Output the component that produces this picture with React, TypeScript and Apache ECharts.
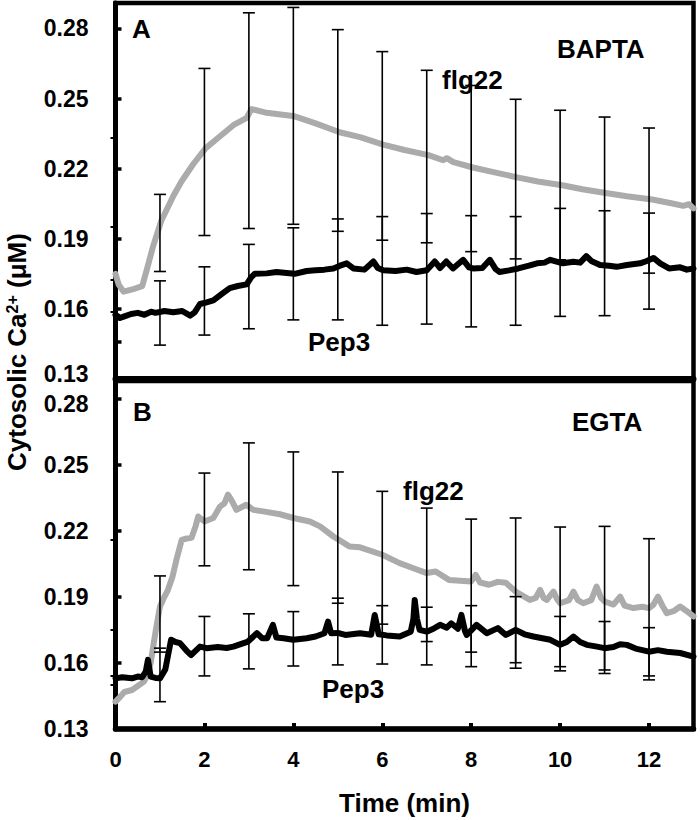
import React, { useEffect, useRef } from "react";
import * as echarts from "echarts";

// ---------- data ----------
const xTickLabels = [0, 2, 4, 6, 8, 10, 12];
const yTickLabels = [0.13, 0.16, 0.19, 0.22, 0.25, 0.28];
const yTicksA = [0.13, 0.146, 0.16, 0.19, 0.22, 0.25, 0.28];
const yTicksB = [0.13, 0.16, 0.19, 0.22, 0.25, 0.28];
const rightTicksA = [0.2332, 0.195, 0.1723, 0.1586];
const rightTicksB = [0.2159, 0.175, 0.1541, 0.15];

const barTimes = [1, 2, 3, 4, 5, 6, 7, 8, 9, 10, 11, 12];

// Panel A (BAPTA)
const aFlgLow = [0.176, 0.1914, 0.1944, 0.1962, 0.1932, 0.1894, 0.1883, 0.1845, 0.1814, 0.181, 0.178, 0.1753];
const aFlgHigh = [0.209, 0.2629, 0.2867, 0.289, 0.2795, 0.2701, 0.2621, 0.2556, 0.2497, 0.245, 0.2421, 0.2374];
const aPepLow = [0.1445, 0.1488, 0.1515, 0.1553, 0.1553, 0.153, 0.1535, 0.1523, 0.153, 0.1568, 0.1571, 0.1599];
const aPepHigh = [0.172, 0.178, 0.1876, 0.1947, 0.1985, 0.1995, 0.2008, 0.1999, 0.1995, 0.203, 0.202, 0.201];

const aFlgTrace = [
  [0, 0.175], [0.07, 0.1705], [0.18, 0.1674], [0.4, 0.1685], [0.6, 0.1697], [0.7, 0.1765],
  [0.85, 0.1871], [1.03, 0.1977], [1.3, 0.2083], [1.48, 0.2144], [1.75, 0.222], [2.03, 0.2288],
  [2.27, 0.2326], [2.65, 0.2386], [2.95, 0.2417], [3.0, 0.2435], [3.06, 0.2455], [3.4, 0.2439],
  [4.03, 0.2424], [4.5, 0.2394], [5.04, 0.2356], [5.5, 0.2335], [6.02, 0.2303], [6.5, 0.228],
  [7.04, 0.2258], [7.37, 0.2236], [7.45, 0.2245], [7.6, 0.2228], [8.04, 0.2205], [8.5, 0.2185],
  [9.06, 0.2162], [9.5, 0.2145], [10.05, 0.2129], [10.5, 0.2112], [11.06, 0.2095], [11.5, 0.2082],
  [12.07, 0.2068], [12.5, 0.2052], [12.77, 0.2041], [12.9, 0.2048], [13, 0.203],
];
const aPepTrace = [
  [0, 0.1575], [0.1, 0.1561], [0.2, 0.1568], [0.35, 0.1578], [0.5, 0.1583], [0.65, 0.1575],
  [0.8, 0.1588], [0.9, 0.1583], [1.1, 0.1591], [1.3, 0.1586], [1.5, 0.1591], [1.68, 0.1571],
  [1.78, 0.1585], [1.9, 0.1621], [2.05, 0.1628], [2.2, 0.1636], [2.4, 0.1665], [2.57, 0.1689],
  [2.75, 0.1698], [2.95, 0.1705], [3.05, 0.1735], [3.13, 0.175], [3.4, 0.1752], [3.62, 0.1758],
  [3.85, 0.1754], [4.03, 0.175], [4.3, 0.1762], [4.5, 0.1765], [4.7, 0.1768], [4.9, 0.1773],
  [5.05, 0.1785], [5.2, 0.1795], [5.35, 0.1773], [5.6, 0.1768], [5.8, 0.1803], [5.9, 0.1775],
  [6.02, 0.1765], [6.3, 0.1762], [6.55, 0.1768], [6.77, 0.1758], [7.0, 0.1765], [7.18, 0.1803],
  [7.3, 0.1775], [7.44, 0.1803], [7.59, 0.1773], [7.82, 0.181], [7.95, 0.1778], [8.04, 0.1773],
  [8.25, 0.1775], [8.42, 0.181], [8.55, 0.177], [8.64, 0.1758], [8.85, 0.1765], [9.06, 0.1773],
  [9.3, 0.1785], [9.48, 0.1795], [9.65, 0.1798], [9.78, 0.181], [10.06, 0.1795], [10.3, 0.1802],
  [10.45, 0.1798], [10.59, 0.1826], [10.7, 0.1805], [10.9, 0.1788], [11.1, 0.1785], [11.27, 0.178],
  [11.5, 0.1788], [11.8, 0.1795], [11.95, 0.1805], [12.1, 0.1818], [12.25, 0.1795], [12.45, 0.1773],
  [12.7, 0.1778], [12.85, 0.1768], [13, 0.1773],
];

// Panel B (EGTA)
const bFlgLow = [0.1649, 0.2041, 0.2023, 0.1951, 0.1871, 0.1776, 0.1697, 0.1649, 0.1576, 0.1564, 0.1552, 0.1523];
const bFlgHigh = [0.1995, 0.2462, 0.2599, 0.2558, 0.2467, 0.2379, 0.2303, 0.2253, 0.2258, 0.2217, 0.222, 0.2164];
const bPepLow = [0.1424, 0.1541, 0.1573, 0.1586, 0.1591, 0.1595, 0.1591, 0.1583, 0.1601, 0.1583, 0.1568, 0.1541];
const bPepHigh = [0.1667, 0.1811, 0.1823, 0.1833, 0.1894, 0.186, 0.1853, 0.186, 0.1901, 0.1811, 0.1788, 0.176];

const bFlgTrace = [
  [0, 0.1424], [0.1, 0.1445], [0.2, 0.1468], [0.37, 0.1477], [0.5, 0.1495], [0.64, 0.1515],
  [0.72, 0.1545], [0.79, 0.16], [0.9, 0.174], [1.0, 0.1856], [1.1, 0.19], [1.18, 0.1932],
  [1.28, 0.199], [1.37, 0.2068], [1.49, 0.2159], [1.6, 0.2165], [1.71, 0.2168], [1.8, 0.222],
  [1.86, 0.2265], [2.0, 0.2242], [2.2, 0.2258], [2.35, 0.231], [2.45, 0.2325], [2.53, 0.2364],
  [2.62, 0.2335], [2.72, 0.2295], [2.94, 0.2318], [3.1, 0.2295], [3.32, 0.2288], [3.7, 0.2275],
  [4.0, 0.2258], [4.37, 0.2242], [4.6, 0.222], [4.9, 0.2174], [5.26, 0.2129], [5.5, 0.2125],
  [6.0, 0.2091], [6.39, 0.2053], [6.7, 0.203], [7.0, 0.2008], [7.2, 0.2015], [7.5, 0.1977],
  [8.0, 0.197], [8.1, 0.2], [8.2, 0.1965], [8.4, 0.1955], [8.6, 0.1968], [8.78, 0.1964],
  [9.0, 0.1924], [9.32, 0.1886], [9.45, 0.1895], [9.55, 0.1932], [9.63, 0.1895], [9.7, 0.1886],
  [9.85, 0.1924], [9.93, 0.189], [10.0, 0.1871], [10.2, 0.1885], [10.3, 0.1924], [10.4, 0.1885],
  [10.52, 0.1871], [10.7, 0.1885], [10.82, 0.1947], [10.92, 0.1895], [11.0, 0.1879], [11.2, 0.1865],
  [11.35, 0.1901], [11.45, 0.186], [11.65, 0.1849], [11.85, 0.1855], [12.0, 0.1849], [12.1, 0.1865],
  [12.2, 0.1901], [12.3, 0.186], [12.4, 0.1826], [12.55, 0.1835], [12.7, 0.1856], [12.85, 0.1835],
  [13, 0.1811],
];
const bPepTrace = [
  [0, 0.153], [0.15, 0.1535], [0.37, 0.153], [0.5, 0.1538], [0.6, 0.1535], [0.68, 0.156],
  [0.73, 0.1614], [0.79, 0.1538], [0.9, 0.1532], [1.0, 0.153], [1.12, 0.157], [1.25, 0.1705],
  [1.35, 0.1695], [1.45, 0.169], [1.6, 0.1655], [1.7, 0.1636], [1.8, 0.1655], [1.9, 0.1674],
  [2.05, 0.1667], [2.3, 0.1672], [2.5, 0.1668], [2.65, 0.1674], [2.98, 0.1697], [3.18, 0.1735],
  [3.3, 0.1712], [3.41, 0.1712], [3.54, 0.1773], [3.62, 0.1715], [3.78, 0.1712], [4.0, 0.1705],
  [4.3, 0.1712], [4.5, 0.172], [4.7, 0.1735], [4.78, 0.1788], [4.85, 0.1735], [5.0, 0.1736],
  [5.17, 0.1727], [5.5, 0.1735], [5.75, 0.1728], [5.83, 0.1818], [5.92, 0.173], [6.1, 0.1725],
  [6.39, 0.172], [6.64, 0.1742], [6.7, 0.18], [6.73, 0.1886], [6.78, 0.18], [6.84, 0.175],
  [7.0, 0.1742], [7.15, 0.1755], [7.3, 0.1773], [7.45, 0.176], [7.55, 0.178], [7.7, 0.1755],
  [7.78, 0.1818], [7.86, 0.1745], [7.9, 0.1727], [8.12, 0.1773], [8.35, 0.1735], [8.6, 0.1758],
  [8.78, 0.1727], [9.0, 0.175], [9.2, 0.173], [9.4, 0.172], [9.6, 0.1712], [9.78, 0.1705],
  [10.0, 0.1682], [10.15, 0.1695], [10.3, 0.172], [10.45, 0.1695], [10.6, 0.1682], [10.8, 0.1675],
  [11.0, 0.1667], [11.2, 0.1672], [11.35, 0.1685], [11.5, 0.1682], [11.7, 0.1665], [12.0, 0.1651],
  [12.2, 0.1658], [12.4, 0.1651], [12.7, 0.1645], [13, 0.1629],
];

// ---------- chart ----------
const FONT = "'Liberation Sans', Arial, sans-serif";
const GRAY = "#ababab";

function bars(low: number[], high: number[]) {
  return barTimes.map((t, i) => [t, low[i], high[i]]);
}

function errorSeries(name: string, data: number[][], axisIdx: number, yIdx: number) {
  return {
    name,
    type: "custom",
    xAxisIndex: axisIdx,
    yAxisIndex: yIdx,
    z: 5,
    clip: false,
    data,
    encode: { x: 0, y: [1, 2] },
    renderItem: (params: any, api: any) => {
      const x = api.value(0);
      const lo = api.coord([x, api.value(1)]);
      const hi = api.coord([x, api.value(2)]);
      const w = 6;
      const st = { stroke: "#000", lineWidth: 1.6 };
      return {
        type: "group",
        children: [
          { type: "line", shape: { x1: lo[0], y1: lo[1], x2: hi[0], y2: hi[1] }, style: st },
          { type: "line", shape: { x1: lo[0] - w, y1: lo[1], x2: lo[0] + w, y2: lo[1] }, style: st },
          { type: "line", shape: { x1: hi[0] - w, y1: hi[1], x2: hi[0] + w, y2: hi[1] }, style: st },
        ],
      };
    },
  };
}

function lineSeries(name: string, data: number[][], color: string, xIdx: number, yIdx: number, width: number) {
  return {
    name,
    type: "line",
    xAxisIndex: xIdx,
    yAxisIndex: yIdx,
    data,
    showSymbol: false,
    symbol: "none",
    z: 3,
    lineStyle: { color, width, join: "round", cap: "round" },
  };
}

function txt(text: string, x: number, y: number, size = 26) {
  return {
    type: "text",
    x,
    y,
    z: 10,
    style: {
      text,
      fill: "#000",
      fontSize: size,
      fontWeight: "bold",
      fontFamily: FONT,
      textAlign: "left",
      textVerticalAlign: "middle",
      align: "left",
      verticalAlign: "middle",
    },
  };
}

const Y_MAX_A = 0.2909;
const Y_MAX_B = 0.288;

const labelRich = {
  n: { fontSize: 23, fontWeight: "bold", fontFamily: FONT, color: "#000" },
  up: { fontSize: 23, fontWeight: "bold", fontFamily: FONT, color: "#000", padding: [0, 0, 10, 0] },
  down: { fontSize: 23, fontWeight: "bold", fontFamily: FONT, color: "#000", padding: [10, 0, 0, 0] },
};

function leftY(gridIndex: number, max: number, ticks: number[], shift: "up" | "down") {
  return {
    type: "value",
    gridIndex,
    min: 0.13,
    max,
    position: "left",
    splitLine: { show: false },
    axisLine: { show: true, onZero: false, lineStyle: { color: "#000", width: 5 } },
    axisTick: { show: true, inside: true, length: 6, lineStyle: { color: "#000", width: 3.5 }, customValues: ticks },
    axisLabel: {
      show: true,
      margin: 27,
      color: "#000",
      fontSize: 23,
      fontWeight: "bold",
      fontFamily: FONT,
      customValues: yTickLabels,
      rich: labelRich,
      formatter: (v: number) => {
        const s = v.toFixed(2);
        if (shift === "up" && Math.abs(v - 0.13) < 1e-6) return "{up|" + s + "}";
        if (shift === "down" && Math.abs(v - 0.28) < 1e-6) return "{down|" + s + "}";
        return "{n|" + s + "}";
      },
    },
  };
}

function rightY(gridIndex: number, max: number, ticks: number[]) {
  return {
    type: "value",
    gridIndex,
    min: 0.13,
    max,
    position: "right",
    splitLine: { show: false },
    axisLine: { show: false },
    axisTick: { show: true, inside: true, length: 5, lineStyle: { color: "#000", width: 2 }, customValues: ticks },
    axisLabel: { show: false },
  };
}

export default function App() {
  const ref = useRef<HTMLDivElement>(null);

  useEffect(() => {
    if (!ref.current) return;
    const chart = echarts.init(ref.current, null, { renderer: "svg" });
    const option: any = {
      animation: false,
      backgroundColor: "#fff",
      textStyle: { fontFamily: FONT },
      grid: [
        { left: 115.5, width: 578, top: 3, height: 376, show: true, borderColor: "#000", borderWidth: 4.5, backgroundColor: "transparent", outerBoundsMode: "none" },
        { left: 115.5, width: 578, top: 381, height: 348, show: true, borderColor: "#000", borderWidth: 4.5, backgroundColor: "transparent", outerBoundsMode: "none" },
      ],
      xAxis: [
        {
          type: "value",
          gridIndex: 0,
          min: 0,
          max: 13,
          splitLine: { show: false },
          axisLine: { show: true, onZero: false, lineStyle: { color: "#000", width: 6 } },
          axisTick: { show: false },
          axisLabel: { show: false },
        },
        {
          type: "value",
          gridIndex: 1,
          min: 0,
          max: 13,
          splitLine: { show: false },
          axisLine: { show: true, onZero: false, lineStyle: { color: "#000", width: 5.5 } },
          axisTick: { show: true, inside: true, length: 6, lineStyle: { color: "#000", width: 4 }, customValues: [2, 4, 6, 8, 10, 12] },
          axisLabel: {
            show: true,
            margin: 19,
            color: "#000",
            fontSize: 22,
            fontWeight: "bold",
            fontFamily: FONT,
            customValues: xTickLabels,
          },
          name: "Time (min)",
          nameLocation: "middle",
          nameGap: 61,
          nameTextStyle: { color: "#000", fontSize: 26, fontWeight: "bold", fontFamily: FONT },
        },
      ],
      yAxis: [
        leftY(0, Y_MAX_A, yTicksA, "up"),
        rightY(0, Y_MAX_A, rightTicksA),
        leftY(1, Y_MAX_B, yTicksB, "down"),
        rightY(1, Y_MAX_B, rightTicksB),
      ],
      series: [
        lineSeries("flg22 BAPTA", aFlgTrace, GRAY, 0, 0, 6),
        lineSeries("Pep3 BAPTA", aPepTrace, "#000", 0, 0, 6),
        errorSeries("flg22 BAPTA SD", bars(aFlgLow, aFlgHigh), 0, 0),
        errorSeries("Pep3 BAPTA SD", bars(aPepLow, aPepHigh), 0, 0),
        lineSeries("flg22 EGTA", bFlgTrace, GRAY, 1, 2, 6),
        lineSeries("Pep3 EGTA", bPepTrace, "#000", 1, 2, 6),
        errorSeries("flg22 EGTA SD", bars(bFlgLow, bFlgHigh), 1, 2),
        errorSeries("Pep3 EGTA SD", bars(bPepLow, bPepHigh), 1, 2),
      ],
      graphic: [
        txt("A", 132, 29),
        txt("BAPTA", 557, 49),
        txt("flg22", 442, 80),
        txt("Pep3", 308, 342),
        txt("B", 133, 412),
        txt("EGTA", 572, 422),
        txt("flg22", 403, 491),
        txt("Pep3", 322, 689),
        {
          type: "text",
          x: 17,
          y: 352,
          rotation: Math.PI / 2,
          z: 10,
          style: {
            text: "Cytosolic Ca{sup|2+} (μM)",
            fill: "#000",
            fontSize: 26,
            fontWeight: "bold",
            fontFamily: FONT,
            textAlign: "center",
            textVerticalAlign: "middle",
            align: "center",
            verticalAlign: "middle",
            rich: {
              sup: { fontSize: 16, fontWeight: "bold", fontFamily: FONT, fill: "#000", verticalAlign: "top", lineHeight: 26 },
            },
          },
        },
      ],
    };
    chart.setOption(option);
    return () => chart.dispose();
  }, []);

  return (
    <div
      ref={ref}
      style={{ position: "absolute", left: 0, top: 0, width: 700, height: 820, background: "#fff" }}
    />
  );
}
